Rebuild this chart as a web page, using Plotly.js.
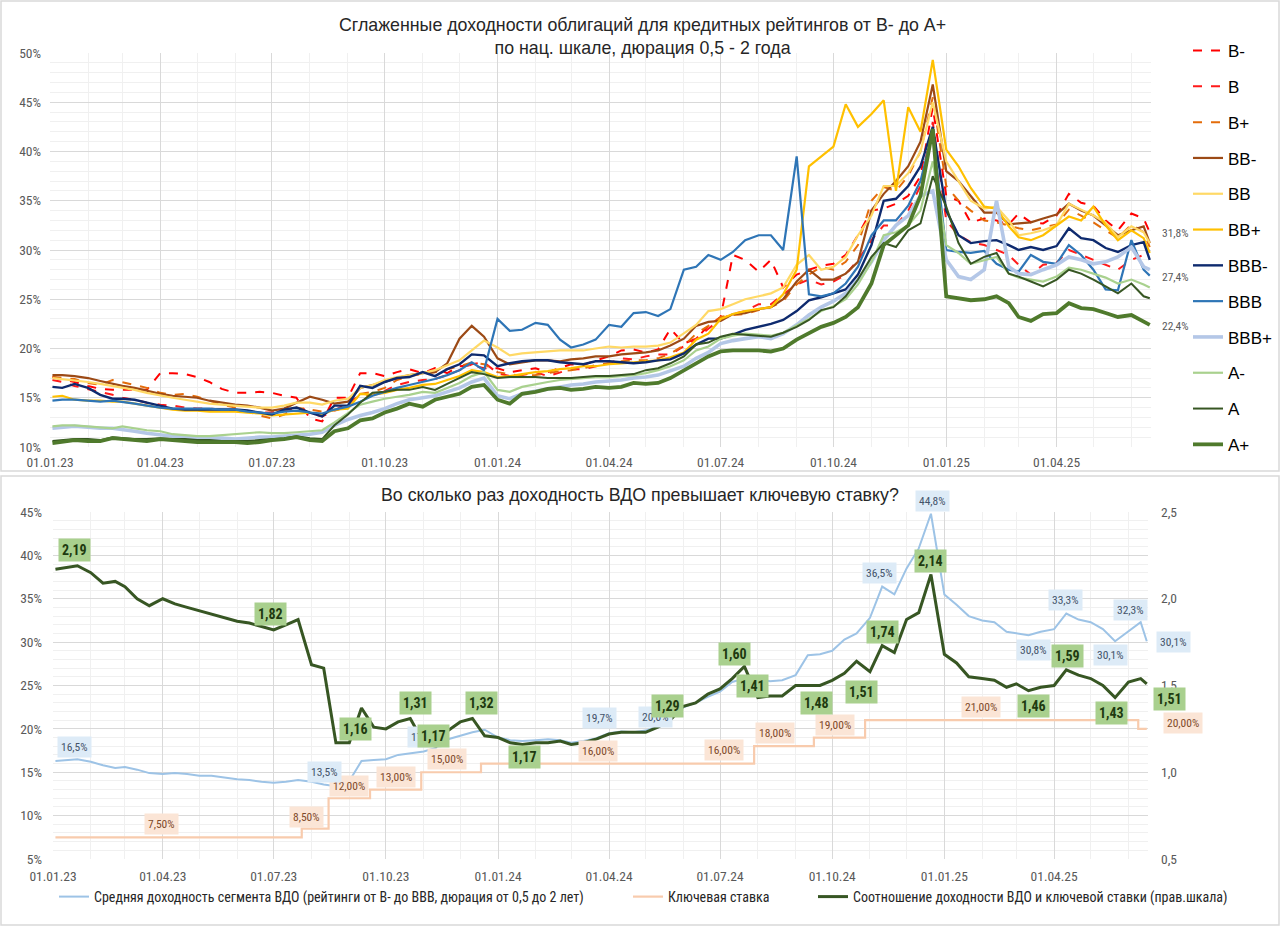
<!DOCTYPE html>
<html>
<head>
<meta charset="utf-8">
<script src="https://cdn.plot.ly/plotly-3.0.1.min.js"></script>
<style>
  html, body { margin: 0; padding: 0; background: #fff; }
  #chart { width: 1280px; height: 926px; }
</style>
</head>
<body>
<div id="chart"></div>
<script>
// ---- data (~10-day steps) ----
const dates = [
  '2023-01-03','2023-01-11','2023-01-21','2023-02-01','2023-02-11','2023-02-21','2023-03-01','2023-03-11','2023-03-21',
  '2023-04-01','2023-04-11','2023-04-21','2023-05-01','2023-05-11','2023-05-21','2023-06-01','2023-06-11','2023-06-21',
  '2023-07-01','2023-07-11','2023-07-21','2023-08-01','2023-08-11','2023-08-21','2023-09-01','2023-09-11','2023-09-21',
  '2023-10-01','2023-10-11','2023-10-21','2023-11-01','2023-11-11','2023-11-21','2023-12-01','2023-12-11','2023-12-21',
  '2024-01-01','2024-01-11','2024-01-21','2024-02-01','2024-02-11','2024-02-21','2024-03-01','2024-03-11','2024-03-21',
  '2024-04-01','2024-04-11','2024-04-21','2024-05-01','2024-05-11','2024-05-21','2024-06-01','2024-06-11','2024-06-21',
  '2024-07-01','2024-07-11','2024-07-21','2024-08-01','2024-08-11','2024-08-21','2024-09-01','2024-09-11','2024-09-21',
  '2024-10-01','2024-10-11','2024-10-21','2024-11-01','2024-11-11','2024-11-21','2024-12-01','2024-12-11','2024-12-21',
  '2025-01-01','2025-01-11','2025-01-21','2025-02-01','2025-02-11','2025-02-21','2025-03-01','2025-03-11','2025-03-21',
  '2025-04-01','2025-04-11','2025-04-21','2025-05-01','2025-05-11','2025-05-21','2025-06-01','2025-06-11','2025-06-16'
];

const bMinus = [17.1,16.9,16.6,16.2,15.9,15.8,15.8,15.8,15.8,17.5, 17.5,17.4,17.1,16.6,15.9,15.5,15.5,15.6,15.5,15.2,
  15.0,12.9,12.6,15.0,15.0,17.5,17.5,17.2,17.6,17.9, 17.5,18.0,17.5,18.2,18.3,18.0,18.0,17.6,17.8,18.0,
  17.6,18.0,18.4,18.3,18.8,19.2,19.8,19.9,19.6,19.9, 22.0,20.5,21.0,22.3,23.2,29.5,29.0,27.8,29.0,26.2,
  27.5,28.0,28.4,28.6,29.5,31.5,34.0,34.2,34.7,35.5, 37.5,44.5,35.5,35.0,32.8,33.2,33.0,32.6,33.7,32.8,
  32.7,33.5,35.7,34.8,34.5,33.0,32.0,33.7,33.2,31.8];
const bMid = [16.8,16.6,16.2,15.9,15.6,15.3,15.0,14.8,14.5,14.3, 14.2,14.0,13.9,13.9,13.8,13.7,13.6,13.5,13.5,13.7,
  13.9,13.4,13.1,13.7,14.5,15.2,15.3,15.7,16.3,16.6, 16.8,16.9,17.3,17.8,18.4,18.6,17.5,17.2,17.3,17.6,
  17.2,17.6,17.9,17.9,18.2,18.5,19.0,18.9,19.2,19.4, 19.4,20.2,21.0,22.0,23.0,23.5,23.8,24.5,24.5,25.5,
  26.5,27.0,26.5,26.8,27.5,29.0,31.0,32.5,32.5,34.0, 36.5,43.0,33.0,31.5,30.8,30.5,30.0,29.5,28.5,27.5,
  28.5,28.7,30.0,29.5,29.0,28.5,28.0,29.0,29.5,29.3];
const bPlus = [17.1,17.0,16.9,16.5,16.3,16.8,16.6,16.3,16.0,15.5, 15.3,15.4,15.1,14.7,14.3,14.0,13.6,13.2,12.9,13.3,
  14.0,13.8,13.6,13.7,14.0,15.4,15.6,16.0,16.8,17.2, 17.4,17.6,17.9,18.2,18.6,18.4,17.6,17.4,17.2,17.3,
  17.5,17.7,17.8,18.0,18.3,18.5,18.7,18.8,18.8,19.0, 19.5,20.3,21.5,22.3,23.2,23.4,23.5,23.9,24.2,24.8,
  26.5,27.5,28.3,28.0,28.8,30.5,35.0,36.4,36.0,37.5, 40.0,45.5,36.5,35.0,34.0,33.0,32.8,32.5,32.2,32.0,
  32.3,32.6,34.1,33.5,32.8,32.0,31.2,32.6,31.8,30.3];
const bbMinus = [17.3,17.3,17.2,17.0,16.7,16.4,16.2,16.0,15.7,15.4, 15.2,15.1,15.0,14.7,14.5,14.3,14.2,14.0,13.7,13.9,
  14.5,15.1,14.8,14.4,14.6,16.0,16.3,16.6,17.0,17.3, 17.5,17.6,18.5,21.0,22.3,21.2,19.0,18.4,18.6,18.8,
  18.8,18.7,18.9,19.0,19.2,19.2,19.4,19.5,19.6,19.8, 20.3,21.0,22.3,22.7,22.8,23.5,23.6,24.0,24.2,25.0,
  26.8,28.0,27.0,27.0,27.6,28.8,34.0,35.7,37.0,38.5, 41.0,46.8,38.0,37.0,35.5,33.8,33.8,32.6,32.7,32.8,
  33.2,33.6,34.7,34.0,33.5,32.5,31.5,32.0,32.4,30.7];
const bbMid = [17.0,16.9,16.8,16.6,16.4,16.2,16.0,15.8,15.5,15.2, 15.0,14.8,14.6,14.4,14.3,14.2,14.1,14.0,14.0,14.2,
  14.5,14.5,14.3,14.7,14.9,16.0,16.3,16.8,17.1,17.3, 17.5,17.8,18.3,18.8,19.8,20.8,20.1,19.3,19.5,19.6,
  19.7,19.8,19.8,19.8,20.0,20.2,20.1,20.2,20.2,20.3, 20.6,21.5,22.4,23.8,24.0,24.5,25.0,25.3,25.6,26.2,
  28.5,29.5,28.0,28.3,29.3,31.5,33.5,36.5,36.5,37.8, 40.0,45.0,39.0,37.0,35.0,34.2,34.4,33.0,31.5,31.7,
  32.0,32.5,34.7,34.1,33.5,32.8,31.3,32.4,31.8,30.7];
const bbPlus = [15.1,15.2,14.8,14.7,14.7,14.6,14.6,14.4,14.2,14.0, 13.8,13.7,13.7,13.6,13.6,13.6,13.5,13.4,13.2,13.3,
  13.4,13.5,13.3,13.8,13.9,15.4,15.3,15.5,15.8,16.0, 16.3,16.4,16.8,17.2,17.8,17.6,17.1,17.2,17.4,17.6,
  17.7,17.9,18.0,18.2,18.2,18.4,18.5,18.6,18.7,18.8, 19.1,19.6,20.9,21.5,23.0,23.5,23.8,24.0,24.2,25.5,
  28.0,38.5,39.5,40.5,44.8,42.5,43.8,45.2,36.0,44.5, 42.0,49.3,40.2,38.5,36.3,34.4,34.2,32.4,31.3,31.0,
  31.5,32.5,33.4,33.0,34.4,32.5,31.0,32.0,31.2,29.7];
const bbbMinus = [16.1,16.0,16.4,16.0,15.3,14.9,14.9,14.8,14.5,14.2, 13.9,13.8,13.8,13.8,13.8,13.8,13.7,13.5,13.3,13.8,
  14.0,13.5,13.1,14.2,14.2,16.2,16.0,16.6,17.0,17.1, 17.6,17.2,17.9,18.4,19.4,19.3,18.2,18.5,18.7,18.8,
  18.8,18.6,18.5,18.4,18.7,18.7,18.6,18.5,18.6,18.8, 18.9,19.5,20.4,21.0,21.0,21.4,21.9,22.2,22.5,22.9,
  23.8,24.9,25.2,25.6,26.0,27.5,30.5,35.0,35.2,36.5, 38.5,42.5,34.0,31.5,30.7,30.9,31.0,30.5,30.0,30.3,
  30.0,30.4,32.2,31.2,31.0,30.2,29.8,30.5,30.8,29.0];
const bbbMid = [14.7,14.8,14.8,14.7,14.6,14.7,14.6,14.4,14.2,14.0, 13.9,13.9,13.9,13.9,13.8,13.8,13.6,13.5,13.4,13.6,
  13.7,13.5,13.4,13.8,14.1,14.6,15.2,15.6,16.0,16.3, 16.6,16.9,17.3,17.8,18.6,17.8,23.0,21.8,21.9,22.6,
  22.4,20.9,20.1,20.4,20.9,22.4,22.2,23.6,23.7,23.3, 24.0,28.0,28.3,29.5,29.0,29.8,31.0,31.5,31.5,30.0,
  39.5,25.5,25.3,25.6,26.6,28.3,31.5,33.0,33.0,34.5, 37.0,42.0,30.0,29.8,29.7,29.9,28.6,28.0,27.8,29.5,
  28.8,28.6,30.5,29.5,28.0,26.0,25.9,31.0,28.0,27.4];
const bbbPlus = [11.9,12.0,12.1,12.0,11.9,11.9,11.8,11.6,11.4,11.2, 11.1,11.0,11.0,10.9,10.9,10.8,10.9,11.0,11.0,11.1,
  11.2,11.3,11.5,12.2,12.8,13.2,13.5,13.9,14.4,14.8, 15.0,15.2,15.6,16.0,16.6,17.0,15.2,14.9,15.4,15.7,
  15.9,16.1,16.3,16.4,16.6,16.7,16.8,17.0,17.1,17.3, 17.7,18.2,19.0,19.6,20.5,20.8,21.0,21.2,21.0,21.5,
  22.4,23.4,24.2,24.8,25.6,27.0,28.8,31.0,32.5,33.5, 35.5,36.0,29.0,27.3,27.0,28.0,35.0,28.3,27.6,27.5,
  28.0,28.5,29.3,29.0,28.6,28.8,29.3,30.3,28.3,28.0];
const aMinus = [12.1,12.2,12.2,12.1,12.0,11.9,12.1,11.9,11.7,11.6, 11.3,11.2,11.1,11.1,11.2,11.3,11.4,11.5,11.4,11.4,
  11.5,11.6,11.7,12.5,13.4,14.3,14.6,14.9,15.1,15.3, 15.6,15.5,16.0,16.5,17.2,17.6,15.8,15.6,16.1,16.4,
  16.6,16.8,16.9,17.0,17.1,17.1,17.2,17.3,17.5,17.8, 18.2,18.8,19.8,20.2,21.0,21.3,21.5,21.4,21.3,21.6,
  22.3,23.0,23.8,24.3,25.0,26.5,28.8,31.5,31.8,32.5, 34.0,39.0,30.5,29.7,28.6,29.0,29.3,27.6,27.2,27.0,
  26.8,27.3,28.2,28.0,27.6,27.2,26.6,27.0,26.5,26.2];
const aMid = [10.6,10.7,10.8,10.8,10.7,11.0,10.9,10.8,10.8,10.9, 10.8,10.8,10.7,10.7,10.6,10.6,10.6,10.7,10.8,10.9,
  11.1,10.9,10.8,12.2,13.3,14.5,15.5,15.6,15.8,15.8, 16.1,15.8,16.4,17.0,17.6,17.4,17.0,17.1,17.1,17.1,
  17.0,17.0,17.0,17.1,17.2,17.2,17.3,17.4,17.8,18.0, 18.5,19.2,20.4,20.6,21.2,21.5,21.4,21.3,21.2,21.6,
  22.2,22.9,23.9,24.2,25.3,27.0,29.3,30.7,30.3,32.0, 32.7,37.5,34.4,30.7,28.6,29.3,29.7,27.6,27.3,26.8,
  26.3,27.0,28.0,27.6,27.0,26.3,25.6,26.6,25.3,25.1];
const aPlus = [10.4,10.5,10.7,10.6,10.6,10.9,10.8,10.7,10.6,10.8, 10.7,10.6,10.5,10.5,10.5,10.5,10.4,10.5,10.7,10.8,
  11.0,10.7,10.6,11.6,11.9,12.7,12.9,13.5,13.9,14.4, 14.1,14.8,15.1,15.4,16.1,16.3,14.8,14.4,15.4,15.6,
  15.9,16.0,15.8,15.9,16.1,16.0,16.1,16.5,16.4,16.5, 17.0,17.8,18.5,19.2,19.7,19.8,19.8,19.8,19.7,20.0,
  20.9,21.5,22.2,22.6,23.2,24.2,26.6,30.5,31.5,32.5, 35.5,42.3,25.3,25.1,24.9,25.0,25.3,24.6,23.2,22.8,
  23.5,23.6,24.6,24.1,24.0,23.6,23.2,23.4,22.7,22.4];

const ratingNames = ['B-','B','B+','BB-','BB','BB+','BBB-','BBB','BBB+','A-','A','A+'];
const ratingSeries = [bMinus,bMid,bPlus,bbMinus,bbMid,bbPlus,bbbMinus,bbbMid,bbbPlus,aMinus,aMid,aPlus];

// bottom chart
const vdoYield = [16.3,16.4,16.5,16.2,15.8,15.5,15.6,15.3,14.9,14.8, 14.9,14.8,14.6,14.6,14.4,14.2,14.1,13.9,13.8,13.9,
  14.1,13.9,13.6,13.4,14.0,16.3,16.4,16.5,17.0,17.2, 17.4,17.8,18.8,19.2,19.6,19.9,19.0,18.7,18.6,18.7,
  18.8,18.7,18.4,18.6,18.9,19.5,19.7,19.6,19.8,20.3, 21.5,22.5,23.0,23.7,24.3,25.4,25.8,25.8,25.5,25.6,
  26.2,28.5,28.6,29.0,30.3,31.0,32.8,36.4,35.5,38.5, 40.8,44.8,35.5,34.3,33.0,32.5,32.3,31.2,31.0,30.8,
  31.2,31.5,33.3,32.6,32.3,31.5,30.1,31.2,32.3,30.1];
const yieldToKey = [2.17,2.18,2.19,2.15,2.09,2.10,2.07,2.00,1.96,2.00, 1.97,1.95,1.93,1.91,1.89,1.87,1.86,1.84,1.82,1.85,
  1.88,1.62,1.60,1.17,1.17,1.37,1.26,1.25,1.29,1.31, 1.17,1.15,1.24,1.29,1.31,1.21,1.20,1.17,1.16,1.17,
  1.17,1.18,1.16,1.17,1.19,1.22,1.23,1.23,1.23,1.26, 1.30,1.38,1.40,1.45,1.48,1.54,1.61,1.43,1.44,1.44,
  1.50,1.50,1.50,1.53,1.57,1.64,1.58,1.73,1.69,1.88, 1.92,2.14,1.68,1.63,1.55,1.54,1.53,1.49,1.51,1.47,
  1.49,1.50,1.59,1.56,1.54,1.50,1.43,1.52,1.54,1.51];
const keyDates = ['2023-01-03','2023-07-24','2023-08-15','2023-09-18','2023-10-30','2023-12-18',
  '2024-07-29','2024-09-16','2024-10-28','2025-06-09','2025-06-16'];
const keyRate = [7.5,8.5,12,13,15,16,18,19,21,20,20];

// point labels: [date, value, text]
const ratioLabels = [
  ['2023-01-19',2.28,'2,19'],['2023-06-28',1.91,'1,82'],['2023-09-06',1.25,'1,16'],['2023-10-25',1.40,'1,31'],
  ['2023-11-09',1.21,'1,17'],['2023-12-18',1.40,'1,32'],['2024-01-23',1.09,'1,17'],['2024-05-19',1.38,'1,29'],
  ['2024-07-13',1.68,'1,60'],['2024-07-28',1.50,'1,41'],['2024-09-18',1.40,'1,48'],['2024-10-25',1.46,'1,51'],
  ['2024-11-11',1.81,'1,74'],['2024-12-21',2.22,'2,14'],['2025-03-15',1.38,'1,46'],['2025-04-12',1.67,'1,59'],
  ['2025-05-18',1.34,'1,43']
];
const vdoLabels = [
  ['2023-01-19',17.9,'16,5%'],['2023-08-12',15.0,'13,5%'],['2023-11-02',19.1,'17,8%'],['2024-03-24',21.25,'19,7%'],
  ['2024-05-09',21.4,'20,0%'],['2024-11-09',38.0,'36,5%'],['2025-03-15',29.1,'30,8%'],['2025-04-10',34.9,'33,3%'],
  ['2025-05-17',28.5,'30,1%'],['2025-06-03',33.7,'32,3%']
];
const keyLabels = [
  ['2023-03-31',9.0,'7,50%'],['2023-07-28',9.8,'8,50%'],['2023-09-01',13.4,'12,00%'],['2023-10-09',14.5,'13,00%'],
  ['2023-11-20',16.5,'15,00%'],['2024-03-23',17.45,'16,00%'],['2024-07-04',17.6,'16,00%'],['2024-08-15',19.5,'18,00%'],
  ['2024-10-03',20.4,'19,00%'],['2025-01-31',22.5,'21,00%']
];

// ---- styles ----
const ratingStyle = {
  'B-':  {color:'#ff0000', width:2,   dash:'dash'},
  'B':   {color:'#ff1a1a', width:2,   dash:'dash'},
  'B+':  {color:'#e46c0a', width:2,   dash:'dash'},
  'BB-': {color:'#9c4a16', width:2.2, dash:'solid'},
  'BB':  {color:'#ffd966', width:2.2, dash:'solid'},
  'BB+': {color:'#ffc000', width:2.2, dash:'solid'},
  'BBB-':{color:'#0e2a6e', width:2.4, dash:'solid'},
  'BBB': {color:'#2e75b6', width:2.2, dash:'solid'},
  'BBB+':{color:'#b4c7e7', width:3.6, dash:'solid'},
  'A-':  {color:'#a9d18e', width:2.2, dash:'solid'},
  'A':   {color:'#375623', width:2,   dash:'solid'},
  'A+':  {color:'#4f7a2c', width:3.8, dash:'solid'}
};

const W = 1280, H = 926;
const px = x => x / W;
const py = y => 1 - y / H;
const NARROW = '"Liberation Sans Narrow", "Arial Narrow", "Roboto Condensed", "Liberation Sans", sans-serif';
const SANS = '"Liberation Sans", Arial, sans-serif';

const traces = [];
ratingNames.forEach((name, i) => {
  const st = ratingStyle[name];
  traces.push({
    x: dates, y: ratingSeries[i], name: name, type: 'scatter', mode: 'lines',
    line: {color: st.color, width: st.width, dash: st.dash},
    xaxis: 'x', yaxis: 'y', legend: 'legend', legendgroup: name
  });
});

traces.push({
  x: dates, y: vdoYield, type: 'scatter', mode: 'lines',
  name: 'Средняя доходность сегмента ВДО (рейтинги от B- до BBB, дюрация от 0,5 до 2 лет)',
  line: {color: '#9dc3e6', width: 2}, xaxis: 'x2', yaxis: 'y2', legend: 'legend2'
});
traces.push({
  x: keyDates, y: keyRate, type: 'scatter', mode: 'lines', name: 'Ключевая ставка',
  line: {color: '#f8cbad', width: 2.2, shape: 'hv'}, xaxis: 'x2', yaxis: 'y2', legend: 'legend3'
});
traces.push({
  x: dates, y: yieldToKey, type: 'scatter', mode: 'lines',
  name: 'Соотношение доходности ВДО и ключевой ставки (прав.шкала)',
  line: {color: '#375623', width: 3}, xaxis: 'x2', yaxis: 'y3', legend: 'legend4'
});

function tag(x, y, yref, text, bg, color, size, xref) {
  return {
    x: x, y: y, xref: xref || 'x2', yref: yref, text: text, showarrow: false,
    bgcolor: bg, borderpad: 3, xanchor: 'center', yanchor: 'middle',
    font: {family: NARROW, size: size, color: color}
  };
}

const annotations = [];
keyLabels.forEach(l => annotations.push(tag(l[0], l[1], 'y2', l[2], '#fbe5d6', '#7f4a2a', 11.5)));
annotations.push(tag(px(1183), py(723), 'paper', '20,00%', '#fbe5d6', '#7f4a2a', 11.5, 'paper'));
vdoLabels.forEach(l => annotations.push(tag(l[0], l[1], 'y2', l[2], '#ddebf7', '#44546a', 11.5)));
annotations.push(tag(px(932), py(501), 'paper', '44,8%', '#ddebf7', '#44546a', 11.5, 'paper'));
annotations.push(tag(px(1173), py(642), 'paper', '30,1%', '#ddebf7', '#44546a', 11.5, 'paper'));
ratioLabels.forEach(l => annotations.push(tag(l[0], l[1], 'y3', '<b>' + l[2] + '</b>', '#a9d08e', '#1e3a10', 14)));
annotations.push(tag(px(1169), py(699), 'paper', '<b>1,51</b>', '#a9d08e', '#1e3a10', 14, 'paper'));

// end values of the top chart
[['31,8%',233],['27,4%',277],['22,4%',326]].forEach(l => annotations.push({
  x: px(1175), y: py(l[1]), xref: 'paper', yref: 'paper', text: l[0], showarrow: false,
  xanchor: 'center', yanchor: 'middle',
  font: {family: NARROW, size: 11.5, color: '#595959'}
}));

annotations.push({
  x: px(640), y: py(495), xref: 'paper', yref: 'paper', showarrow: false,
  xanchor: 'center', yanchor: 'middle',
  text: 'Во сколько раз доходность ВДО превышает ключевую ставку?',
  font: {family: SANS, size: 17.8, color: '#262626'}
});

const gridCol = '#d9d9d9', minorCol = '#f0f0f0', tickFont = {family: NARROW, size: 13.5, color: '#595959'};
const dateAxis = (domain, anchor, standoff) => ({
  domain: domain, anchor: anchor, type: 'date', range: ['2023-01-01', '2025-06-17'],
  tick0: '2023-01-01', dtick: 'M3', tickformat: '%d.%m.%y', tickfont: tickFont, ticklabelstandoff: standoff,
  showgrid: true, gridcolor: gridCol, gridwidth: 1, zeroline: false, showline: false, ticks: '',
  minor: {dtick: 'M1', showgrid: true, gridcolor: minorCol, ticks: ''}
});

const legendBase = {
  bgcolor: 'rgba(0,0,0,0)', borderwidth: 0, itemwidth: 30,
  font: {family: NARROW, size: 14, color: '#262626'}, orientation: 'h',
  xanchor: 'left', yanchor: 'middle', y: py(897)
};

const layout = {
  width: W, height: H, margin: {l: 0, r: 0, t: 0, b: 0},
  paper_bgcolor: '#ffffff', plot_bgcolor: '#ffffff', separators: ', ',
  font: {family: SANS, color: '#262626'},
  title: {
    text: 'Сглаженные доходности облигаций для кредитных рейтингов от B- до A+<br>по нац. шкале, дюрация 0,5 - 2 года',
    x: 0.502, xanchor: 'center', y: py(31), yanchor: 'middle',
    font: {family: SANS, size: 17.8, color: '#262626'}
  },
  xaxis: dateAxis([px(50), px(1151)], 'y', 5),
  yaxis: {
    domain: [py(447), py(53)], anchor: 'x', range: [10, 50], dtick: 5, ticksuffix: '%',
    tickfont: tickFont, ticklabelstandoff: 8, showgrid: true, gridcolor: gridCol, zeroline: false, ticks: '',
    minor: {dtick: 1, showgrid: true, gridcolor: minorCol, ticks: ''}
  },
  xaxis2: dateAxis([px(53), px(1148)], 'y2', 7),
  yaxis2: {
    domain: [py(859), py(512)], anchor: 'x2', range: [5, 45], dtick: 5, ticksuffix: '%',
    tickfont: tickFont, ticklabelstandoff: 10, showgrid: true, gridcolor: gridCol, zeroline: false, ticks: '',
    minor: {dtick: 1, showgrid: true, gridcolor: minorCol, ticks: ''}
  },
  yaxis3: {
    overlaying: 'y2', side: 'right', anchor: 'x2', range: [0.5, 2.5], dtick: 0.5, tickformat: '.1f',
    tickfont: tickFont, ticklabelstandoff: 12, showgrid: false, zeroline: false, ticks: ''
  },
  legend: {
    x: px(1188), y: py(33), xanchor: 'left', yanchor: 'top', orientation: 'v',
    bgcolor: 'rgba(0,0,0,0)', tracegroupgap: 10.7, itemwidth: 30,
    font: {family: SANS, size: 17, color: '#000000'}
  },
  legend2: Object.assign({}, legendBase, {x: px(54)}),
  legend3: Object.assign({}, legendBase, {x: px(628)}),
  legend4: Object.assign({}, legendBase, {x: px(813)}),
  shapes: [
    {type: 'rect', xref: 'paper', yref: 'paper', x0: px(1), x1: px(1279), y0: py(471), y1: py(1),
     line: {color: '#d9d9d9', width: 1.5}},
    {type: 'rect', xref: 'paper', yref: 'paper', x0: px(1), x1: px(1279), y0: py(925), y1: py(476),
     line: {color: '#d9d9d9', width: 1.5}}
  ],
  annotations: annotations,
  showlegend: true
};

Plotly.newPlot('chart', traces, layout, {staticPlot: true});
</script>
</body>
</html>
